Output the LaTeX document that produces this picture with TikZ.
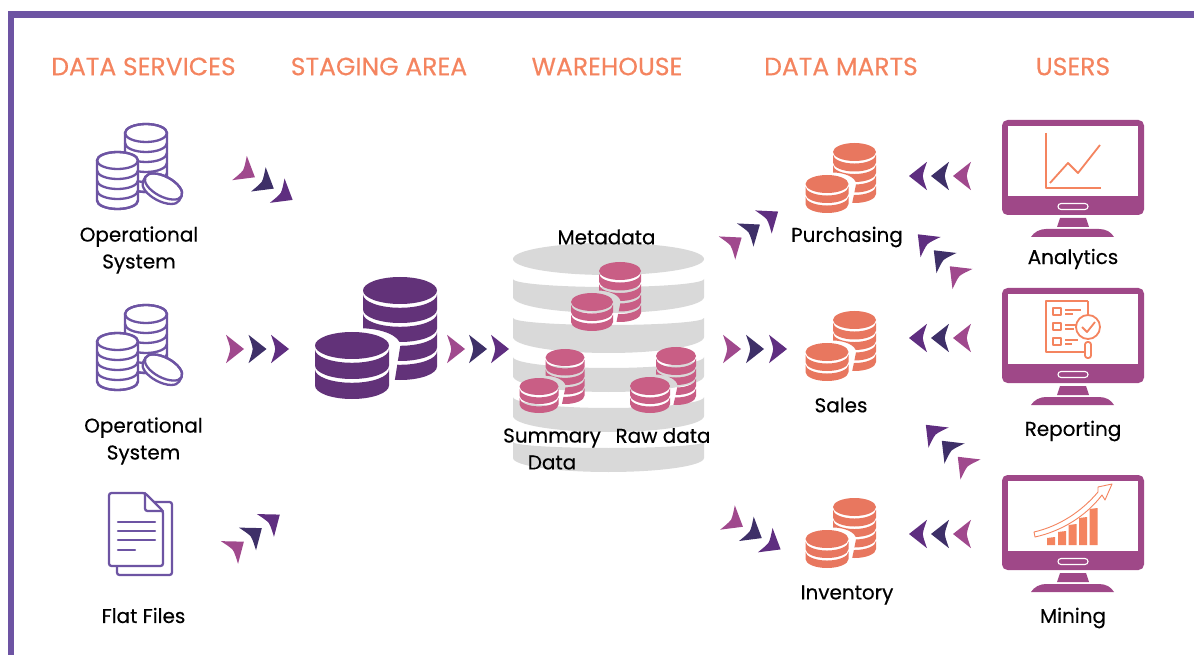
\documentclass[tikz,border=0pt]{standalone}
\usepackage{fontspec}
\setmainfont[BoldFont=Poppins,BoldFeatures={FakeBold=0.35}]{Poppins}
\usetikzlibrary{positioning}

\definecolor{framecol}{HTML}{6D54A3}
\definecolor{headcol}{HTML}{F4845F}
\definecolor{chevpink}{HTML}{A0498D}
\definecolor{chevdark}{HTML}{3E3068}
\definecolor{chevpurple}{HTML}{5F2E80}
\definecolor{screencol}{HTML}{9F4888}
\definecolor{martcol}{HTML}{E8775F}
\definecolor{stagecol}{HTML}{623279}
\definecolor{storecol}{HTML}{C95E85}
\definecolor{housecol}{HTML}{D9D9D9}

\tikzset{
  head/.style={font=\fontsize{14.25}{16}\selectfont\bfseries, text=headcol, inner sep=0pt},
  lbl/.style={font=\fontsize{11.35}{15.3}\selectfont\bfseries, align=center, inner sep=0pt},
  wire/.style={draw=framecol, line width=0.046cm, line join=round, line cap=round},
  iconline/.style={draw=headcol, line width=0.036cm, line join=round}
}

\newcommand{\dbshape}[5]{({#1-#4},{#2+#5}) arc (180:360:#4 and #5) -- ({#1+#4},{#3-#5}) arc (0:180:#4 and #5) -- cycle}

\newcommand{\dbcoins}[7]{
  \pgfmathsetmacro{\gapw}{0.28*#4}
  \fill[#7] (#1,{#2+#4}) ellipse (#3 and #4);
  \foreach \k in {1,...,#5} {
    \pgfmathsetmacro{\ytop}{#2+#4+\gapw+(\k-1)*#6}
    \pgfmathsetmacro{\ybot}{#2+#4+\k*#6}
    \fill[#7] ({#1-#3},\ytop) arc (180:0:#3 and #4) -- ({#1+#3},\ybot) arc (0:180:#3 and #4) -- cycle;
  }
}

\newcommand{\dbpair}[9]{
  \pgfmathsetmacro{\gapf}{0.28*#6}
  \pgfmathsetmacro{\frontbot}{#4+2*#6+2*#8}
  \begin{scope}[even odd rule]
    \clip (-10,-10) rectangle (1300,700)
      \dbshape{#3}{#4-\gapf}{\frontbot+\gapf}{#5+\gapf}{#6+\gapf};
    \dbcoins{#1}{#2}{#5}{#6}{4}{#7}{#9}
  \end{scope}
  \dbcoins{#3}{#4}{#5}{#6}{2}{#8}{#9}
}

\newcommand{\dbwire}[6]{
  \draw[wire, fill=white] \dbshape{#1}{#2}{#2+2*#4+#5*#6}{#3}{#4};
  \draw[wire] (#1,{#2+#4}) ellipse (#3 and #4);
  \foreach \k in {1,...,#5} {
    \draw[wire] ({#1-#3},{#2+#4+\k*#6}) arc (180:0:#3 and #4);
  }
}

\newcommand{\opsystem}[1]{
  \dbwire{146}{#1}{21}{9}{5}{10}
  \dbwire{117.5}{#1+28}{20.5}{8.5}{4}{10}
  \begin{scope}[shift={(163.5,{#1+62.5})},rotate=-28]
    \draw[wire, fill=white] (-20.5,0) arc (180:360:20.5 and 10) -- (20.5,5) arc (0:180:20.5 and 10) -- cycle;
    \draw[wire] (0,0) ellipse (20.5 and 10);
  \end{scope}
}

\newcommand{\chevtrip}[4]{
  \foreach \c [count=\i from 0] in {chevpink,chevdark,chevpurple} {
    \fill[\c, shift={({#1+\i*#4*cos(#3)},{#2+\i*#4*sin(#3)})}, rotate=-#3]
      (18,0) -- (0,-14.2) .. controls (1.8,-9) and (3.8,-4) .. (4.2,0)
      .. controls (3.8,4) and (1.8,9) .. (0,14.2) -- cycle;
  }
}

\newcommand{\screenbox}[1]{
  \begin{scope}[shift={(0,#1)}]
    \fill[screencol, rounded corners=0.11cm] (1002,120) rectangle (1144,215);
    \fill[white] (1007.5,126) rectangle (1138,196);
    \draw[white, line width=0.022cm, rounded corners=0.06cm] (1058,203.5) rectangle (1088,209.5);
    \fill[screencol] (1060,218) -- (1086,218) -- (1089,227) -- (1057,227) -- cycle;
    \fill[screencol] (1031,237) .. controls (1034,232) and (1040,229) .. (1046,229) -- (1099,229)
      .. controls (1106,229) and (1111,232) .. (1114,237) -- cycle;
  \end{scope}
}

\begin{document}
\begin{tikzpicture}[x=0.02cm, y=-0.02cm]
  \useasboundingbox (0,0) rectangle (1194,655);
  \draw[framecol, line width=0.13cm] (11,655) -- (11,14.5) -- (1194,14.5);

  \node[head] (hServices) at (143.5,66.5) {DATA SERVICES};
  \node[head] (hStaging) at (379,66.5) {STAGING AREA};
  \node[head] (hHouse) at (607,66.5) {WAREHOUSE};
  \node[head] (hMarts) at (841,66.5) {DATA MARTS};
  \node[head] (hUsers) at (1073,66.5) {USERS};

  \opsystem{124}
  \opsystem{305}
  \node[lbl] (opA) at (139,250) {Operational\\System};
  \node[lbl] (opB) at (143.5,441) {Operational\\System};

  \draw[wire, fill=white, rounded corners=0.05cm] (117,502) -- (172,502) -- (172,575) -- (117,575) -- cycle;
  \draw[wire, fill=white, rounded corners=0.05cm] (109,493) -- (145,493) -- (163,511) -- (163,566) -- (109,566) -- cycle;
  \draw[wire, rounded corners=0.05cm] (145,493) -- (145,511) -- (163,511);
  \foreach \yy/\xx in {522/155,531/155,540/155,550/135} {
    \draw[wire] (118,\yy) -- (\xx,\yy);
  }
  \node[lbl] (flat) at (143.5,615.5) {Flat Files};

  \dbpair{400}{277}{352}{332}{37}{13.5}{19}{20}{stagecol}

  \fill[housecol] (608.5,259) ellipse (95.5 and 16);
  \foreach \ya/\ra/\yb/\rb in {279/8/297/16,318/7/337/16,357/11/376/16,397/11/416/16,442/6/458/14} {
    \fill[housecol] (513,\ya) arc (180:0:95.5 and \ra) -- (704,\yb) arc (0:180:95.5 and \rb) -- cycle;
  }
  \dbpair{620}{262}{592}{293}{21}{9}{10.5}{10}{storecol}
  \dbpair{565}{349}{539}{378}{19.5}{8.5}{9.5}{9}{storecol}
  \dbpair{676}{347}{650}{377}{20}{9}{10}{9}{storecol}
  \node[lbl] (metadata) at (606.5,237) {Metadata};
  \node[lbl] (summary) at (552,449) {Summary\\Data};
  \node[lbl] (rawdata) at (663,435.5) {Raw data};

  \dbpair{854.5}{143}{827}{175}{21.5}{9}{10.5}{10}{martcol}
  \dbpair{854.5}{311}{827}{343}{21.5}{9}{10.5}{10}{martcol}
  \dbpair{854.5}{498}{827}{530}{21.5}{9}{10.5}{10}{martcol}
  \node[lbl] (purchasing) at (847,237) {Purchasing};
  \node[lbl] (sales) at (841,405) {Sales};
  \node[lbl] (inventory) at (847,595) {Inventory};

  \screenbox{0}
  \screenbox{168}
  \screenbox{355}
  \node[lbl] (analytics) at (1073,259) {Analytics};
  \node[lbl] (reporting) at (1073,431) {Reporting};
  \node[lbl] (mining) at (1073,618) {Mining};

  \draw[iconline] (1046,133) -- (1046,188) -- (1101,188);
  \draw[iconline] (1050,183) -- (1068,163) -- (1078,173) -- (1100,145);

  \draw[iconline] (1088,301) -- (1046,301) -- (1046,352) -- (1084,352);
  \draw[iconline] (1088,301) -- (1088,315);
  \foreach \yy/\xa/\xb in {308/1081/1073,323/1076/1074,338/1078/1072} {
    \draw[iconline] (1053,\yy) rectangle (1061,{\yy+7});
    \draw[iconline] (1065,{\yy+2}) -- (\xa,{\yy+2});
    \draw[iconline] (1065,{\yy+6}) -- (\xb,{\yy+6});
  }
  \draw[iconline, fill=white] (1088,327) circle (12);
  \draw[iconline, rounded corners=0.05cm] (1085,342) rectangle (1091,358);
  \draw[iconline] (1082,327) -- (1087,332) -- (1095,322);

  \draw[draw=headcol, line width=0.018cm, line join=round, fill=white]
    (1034,532) .. controls (1060,526) and (1082,511) .. (1098,492) -- (1098,487) -- (1112,484)
    -- (1105,500) -- (1102,495) .. controls (1086,516) and (1062,531) .. (1035,537) -- cycle;
  \foreach \xx/\yy in {1047/537,1058/531,1068.5/524,1079/517,1089.5/508} {
    \fill[headcol] (\xx,{\yy+1}) -- ({\xx+8},\yy) -- ({\xx+8},545) -- (\xx,545) -- cycle;
  }

  \chevtrip{239.5}{168}{31}{22}
  \chevtrip{226}{349}{0}{22.5}
  \chevtrip{229.5}{552.5}{-37}{22.5}
  \chevtrip{447}{349}{0}{22}
  \chevtrip{727}{248}{-35.5}{22.4}
  \chevtrip{723}{349}{0}{23}
  \chevtrip{727.5}{517.5}{31}{22}
  \chevtrip{971}{176}{180}{22}
  \chevtrip{962.5}{279}{225}{22.6}
  \chevtrip{971}{338}{180}{22}
  \chevtrip{970.5}{469.5}{225}{22.6}
  \chevtrip{971}{534}{180}{22}
\end{tikzpicture}
\end{document}
